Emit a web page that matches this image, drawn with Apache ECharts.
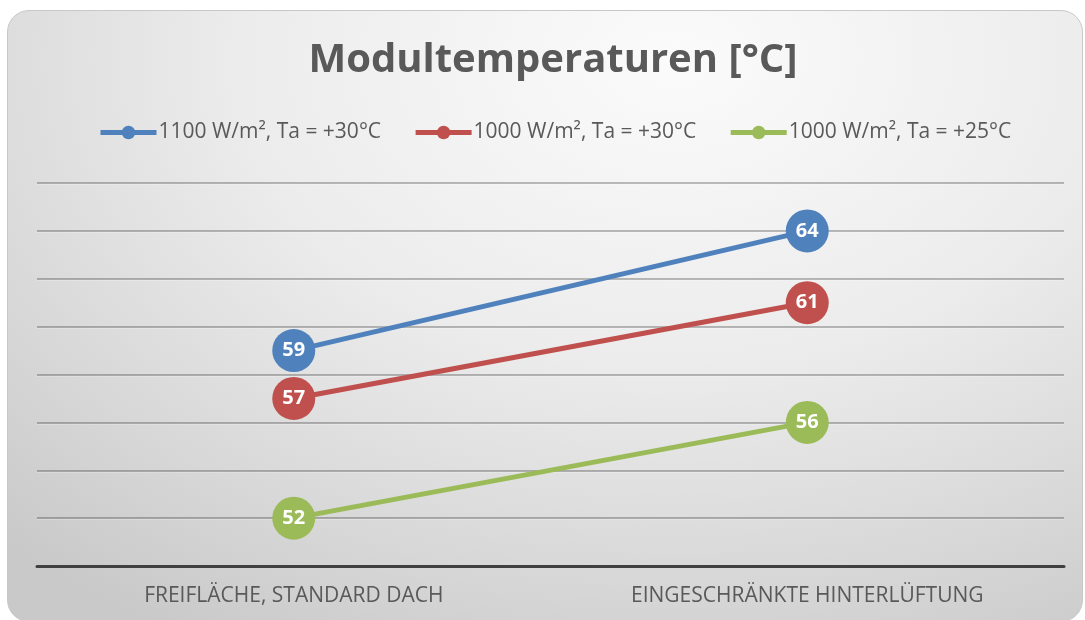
<!DOCTYPE html>
<html>
<head>
<meta charset="utf-8">
<script src="https://cdn.jsdelivr.net/npm/echarts@6/dist/echarts.min.js"></script>
<style>
  html, body { margin: 0; padding: 0; background: #fff; }
  #card {
    position: absolute; left: 7px; top: 10px; width: 1076px; height: 612px;
    border-radius: 22px; border: 1px solid #c8c8c8; box-sizing: border-box;
    background: radial-gradient(ellipse 90% 110% at 62% 8%, #fbfbfb 0%, #ececec 45%, #d6d6d6 80%, #c9c9c9 100%);
  }
  #main { position: absolute; left: 0; top: 0; width: 1085px; height: 620px; }
</style>
</head>
<body>
<div id="card"></div>
<div id="main"></div>
<script>
// Kategorien und Werte
const categories = ['FREIFLÄCHE, STANDARD DACH', 'EINGESCHRÄNKTE HINTERLÜFTUNG'];
const seriesNames = ['1100 W/m², Ta = +30°C', '1000 W/m², Ta = +30°C', '1000 W/m², Ta = +25°C'];
const values1100_30 = [59, 64];
const values1000_30 = [57, 61];
const values1000_25 = [52, 56];
const colors = ['#4f81bd', '#c0504d', '#9bbb59'];

const font = '"Open Sans", "Noto Sans", sans-serif';

function makeSeries(name, data, color) {
  return {
    name: name,
    type: 'line',
    data: data,
    symbol: 'circle',
    symbolSize: 43,
    lineStyle: { width: 5, color: color },
    itemStyle: { color: color },
    label: {
      show: true,
      position: 'inside',
      color: '#fff',
      fontWeight: 'bold',
      fontSize: 20,
      fontFamily: font,
    },
    emphasis: { disabled: true },
  };
}

const option = {
  backgroundColor: 'transparent',
  animation: false,
  color: colors,
  title: {
    text: 'Modultemperaturen [°C]',
    left: 548,
    textAlign: 'center',
    top: 36,
    textStyle: { color: '#595959', fontSize: 40, fontWeight: 'bold', fontFamily: font },
  },
  legend: {
    top: 117,
    left: 93,
    itemWidth: 56,
    itemHeight: 17,
    itemGap: 32,
    lineStyle: { width: 5 },
    textStyle: { color: '#595959', fontSize: 21, fontFamily: font, padding: [0, 0, 0, -3] },
    data: seriesNames,
  },
  grid: { left: 37, right: 21, top: 183, bottom: 54 },
  xAxis: {
    type: 'category',
    data: categories,
    boundaryGap: true,
    axisLine: { lineStyle: { color: '#404040', width: 3 } },
    axisTick: { show: false },
    axisLabel: { color: '#595959', fontSize: 21, fontFamily: font, margin: 20 },
  },
  yAxis: {
    type: 'value',
    min: 50,
    max: 66,
    interval: 2,
    axisLine: { show: false },
    axisTick: { show: false },
    axisLabel: { show: false },
    splitLine: {
      lineStyle: {
        color: 'rgba(0,0,0,0.25)',
        width: 2,
        shadowColor: 'rgba(255,255,255,0.9)',
        shadowOffsetY: 1,
      },
    },
  },
  series: [
    makeSeries(seriesNames[0], values1100_30, colors[0]),
    makeSeries(seriesNames[1], values1000_30, colors[1]),
    makeSeries(seriesNames[2], values1000_25, colors[2]),
  ],
};

const myChart = echarts.init(document.getElementById('main'));
myChart.setOption(option);
</script>
</body>
</html>
